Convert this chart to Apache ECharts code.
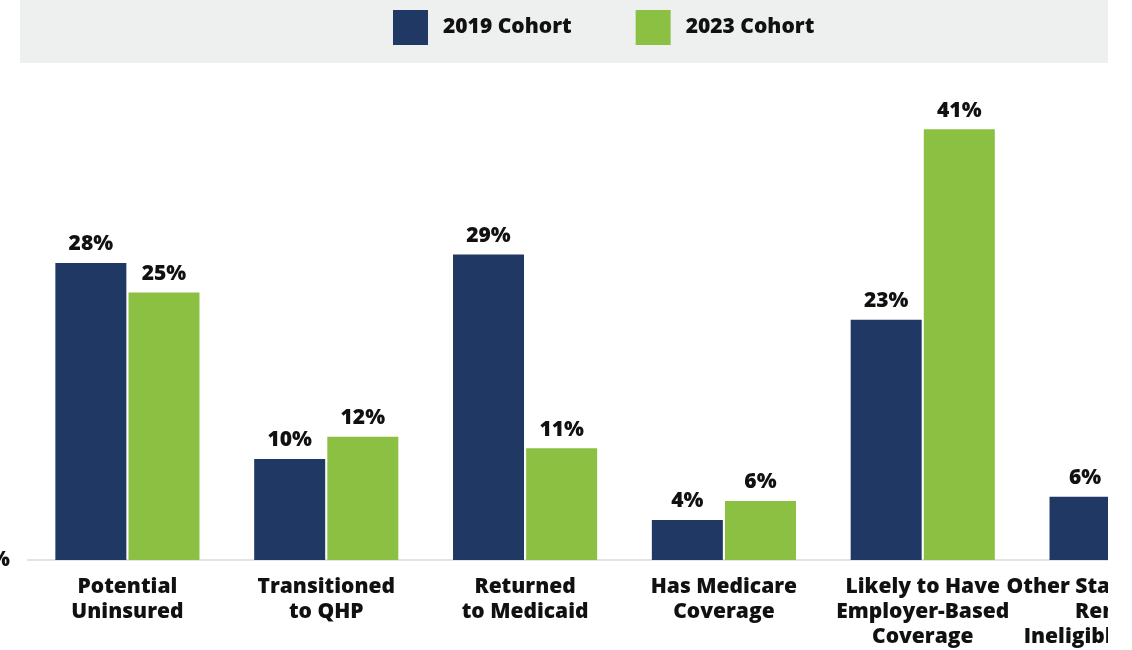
<!DOCTYPE html>
<html><head><meta charset="utf-8">
<script src="https://cdn.jsdelivr.net/npm/echarts@6/dist/echarts.min.js"></script>
<style>
html,body{margin:0;padding:0;background:#fff;}
#clip{position:absolute;left:0;top:0;width:1108px;height:650px;overflow:hidden;}
#chart{position:absolute;left:-30px;top:0;width:1300px;height:650px;}
</style></head>
<body>
<div id="clip"><div id="chart"></div></div>
<script>
const categories = ['Potential\nUninsured','Transitioned\nto QHP','Returned\nto Medicaid','Has Medicare\nCoverage','Likely to Have\nEmployer-Based\nCoverage','Other State Medicaid\nRenewal\nIneligible Reasons'];
const seriesNames = ['2019 Cohort','2023 Cohort'];
const cohort2019 = [28.2, 9.6, 29.0, 3.8, 22.8, 6.0];
const cohort2023 = [25.4, 11.7, 10.6, 5.6, 40.9, null];
const yTickLabels = ['0%'];

const font = '"Open Sans", "Noto Sans", sans-serif';
const chart = echarts.init(document.getElementById('chart'));
const labelCfg = {
  show: true, position: 'top', distance: 8,
  formatter: p => Math.round(p.value) + '%',
  fontFamily: font, fontWeight: 800, fontSize: 21, color: '#111'
};
chart.setOption({
  animation: false,
  graphic: [{type:'rect', left: 50, top: 0, shape:{width:1088, height:63}, style:{fill:'#eef0f0'}, z:-10}],
  legend: {
    left: 423, top: 10, padding: 0, itemWidth: 35, itemHeight: 35, itemGap: 64,
    icon: 'rect',
    textStyle: {fontFamily: font, fontWeight: 800, fontSize: 21, color: '#111', padding:[2,0,0,10]},
    data: seriesNames
  },
  grid: {left: 58, right: 49, top: 86, bottom: 89, containLabel: false},
  xAxis: {
    type: 'category', data: categories,
    axisLine: {lineStyle: {color: '#e3e3e3', width: 2}},
    axisTick: {show: false},
    axisLabel: {fontFamily: font, fontWeight: 800, fontSize: 21, color: '#111', lineHeight: 25, margin: 15, interval: 0}
  },
  yAxis: {
    type: 'value', min: 0, max: 45, interval: 45,
    splitLine: {show: false}, axisLine: {show: false}, axisTick: {show: false},
    axisLabel: {margin: 18, fontFamily: font, fontWeight: 800, fontSize: 21, color: '#111',
      formatter: v => v === 0 ? yTickLabels[0] : ''}
  },
  series: [
    {name: seriesNames[0], type: 'bar', data: cohort2019, barWidth: 71, barGap: '3%',
     itemStyle: {color: '#1f3864'}, label: labelCfg},
    {name: seriesNames[1], type: 'bar', data: cohort2023, barWidth: 71,
     itemStyle: {color: '#8bc043'}, label: labelCfg}
  ]
});
</script>
</body></html>
